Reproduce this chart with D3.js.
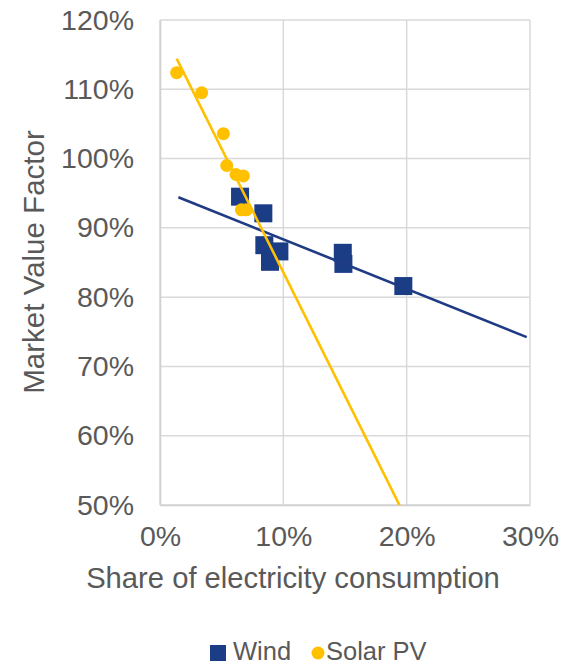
<!DOCTYPE html>
<html><head><meta charset="utf-8">
<script src="https://cdn.jsdelivr.net/npm/d3@7"></script>
<style>body{margin:0;background:#fff}svg{display:block}text{font-family:"Liberation Sans",Arial,sans-serif;fill:#595959}</style>
</head><body>
<svg id="c" width="579" height="666"></svg>
<script>
// Data (shares and market value factors in %)
const windShare = [6.49, 8.38, 8.46, 8.92, 9.68, 14.82, 14.87, 19.73];
const windValue = [94.5, 92.1, 87.5, 85.1, 86.6, 86.4, 84.8, 81.6];
const solarShare = [1.35, 3.38, 5.14, 5.41, 6.16, 6.76, 6.6, 7.0];
const solarValue = [112.4, 109.5, 103.6, 99.0, 97.7, 97.5, 92.6, 92.6];
const windForecast = [5, 10];   // backward, forward (percentage points)
const solarForecast = [0, 25];
const xTicks = [0, 10, 20, 30];
const yTicks = [50, 60, 70, 80, 90, 100, 110, 120];
const seriesNames = ["Wind", "Solar PV"];
const colors = {wind: "#1b3d86", windLine: "#1f3b84", solar: "#ffc000"};

const svg = d3.select("#c");
const x = d3.scaleLinear().domain([0, 30]).range([160, 530]);
const y = d3.scaleLinear().domain([50, 120]).range([505, 20]);

// gridlines
const grid = svg.append("g");
grid.selectAll("line.h").data(yTicks).join("line")
  .attr("x1", x(0)).attr("x2", x(30)).attr("y1", d => y(d)).attr("y2", d => y(d))
  .attr("stroke", "#d9d9d9").attr("stroke-width", 1.5);
grid.selectAll("line.v").data(xTicks).join("line")
  .attr("y1", y(50)).attr("y2", y(120)).attr("x1", d => x(d)).attr("x2", d => x(d))
  .attr("stroke", "#d9d9d9").attr("stroke-width", 1.5);

// axes labels
const yAxis = d3.axisLeft(y).tickValues(yTicks).tickFormat(d => d + "%").tickSize(0).tickPadding(26);
const gy = svg.append("g").attr("transform", `translate(${x(0)},0)`).call(yAxis);
gy.select(".domain").attr("stroke", "#d0d0d0").attr("stroke-width", 1.5);
gy.selectAll("text").attr("font-size", 28.5).style("fill", "#595959").attr("font-family", "Liberation Sans, Arial, sans-serif");

const xAxis = d3.axisBottom(x).tickValues(xTicks).tickFormat(d => d + "%").tickSize(0).tickPadding(21);
const gx = svg.append("g").attr("transform", `translate(0,${y(50)})`).call(xAxis);
gx.select(".domain").attr("stroke", "#d0d0d0").attr("stroke-width", 1.5);
gx.selectAll("text").attr("font-size", 28.5).style("fill", "#595959").attr("font-family", "Liberation Sans, Arial, sans-serif");

// axis titles
svg.append("text").attr("x", 293).attr("y", 588).attr("text-anchor", "middle")
  .attr("font-size", 29.2).text("Share of electricity consumption");
svg.append("text").attr("transform", "translate(44,262) rotate(-90)").attr("text-anchor", "middle")
  .attr("font-size", 29.5).text("Market Value Factor");

// regression
function regress(xs, ys) {
  const n = xs.length, mx = d3.mean(xs), my = d3.mean(ys);
  let sxy = 0, sxx = 0;
  for (let i = 0; i < n; i++) { sxy += (xs[i]-mx)*(ys[i]-my); sxx += (xs[i]-mx)**2; }
  const b = sxy / sxx; return {b, a: my - b*mx};
}
svg.append("clipPath").attr("id", "clip").append("rect")
  .attr("x", x(0)).attr("y", y(120)).attr("width", x(30)-x(0)).attr("height", y(50)-y(120));

const plot = svg.append("g");

// wind squares
const sq = 18;
plot.selectAll("rect.w").data(windShare.map((s, i) => [s, windValue[i]])).join("rect")
  .attr("x", d => x(d[0]) - sq/2).attr("y", d => y(d[1]) - sq/2)
  .attr("width", sq).attr("height", sq).attr("fill", colors.wind);

// wind trend
const wr = regress(windShare, windValue);
const wx0 = d3.min(windShare) - windForecast[0], wx1 = d3.max(windShare) + windForecast[1];
plot.append("line").attr("clip-path", "url(#clip)")
  .attr("x1", x(wx0)).attr("y1", y(wr.a + wr.b*wx0)).attr("x2", x(wx1)).attr("y2", y(wr.a + wr.b*wx1))
  .attr("stroke", colors.windLine).attr("stroke-width", 2.6);

// solar dots
plot.selectAll("circle.s").data(solarShare.map((s, i) => [s, solarValue[i]])).join("circle")
  .attr("cx", d => x(d[0])).attr("cy", d => y(d[1])).attr("r", 6.5).attr("fill", colors.solar);

// solar trend
const sr = regress(solarShare, solarValue);
const sx0 = d3.min(solarShare) - solarForecast[0], sx1 = d3.max(solarShare) + solarForecast[1];
plot.append("line").attr("clip-path", "url(#clip)")
  .attr("x1", x(sx0)).attr("y1", y(sr.a + sr.b*sx0)).attr("x2", x(sx1)).attr("y2", y(sr.a + sr.b*sx1))
  .attr("stroke", colors.solar).attr("stroke-width", 2.6);

// legend
const lg = svg.append("g");
lg.append("rect").attr("x", 210).attr("y", 645).attr("width", 16).attr("height", 16).attr("fill", colors.wind);
lg.append("text").attr("x", 233).attr("y", 660).attr("font-size", 25.5).text(seriesNames[0]);
lg.append("circle").attr("cx", 318).attr("cy", 653).attr("r", 6.5).attr("fill", colors.solar);
lg.append("text").attr("x", 326).attr("y", 660).attr("font-size", 25.5).text(seriesNames[1]);
</script>
</body></html>
